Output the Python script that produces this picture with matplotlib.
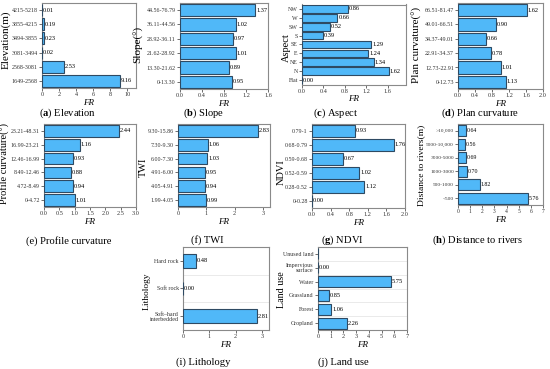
import matplotlib
matplotlib.use("Agg")
import matplotlib.pyplot as plt
import numpy as np

plt.rcParams['font.family'] = ['Liberation Serif', 'DejaVu Serif']
plt.rcParams['mathtext.fontset'] = 'custom'
plt.rcParams['mathtext.rm'] = 'Liberation Serif'
plt.rcParams['mathtext.it'] = 'Liberation Serif:italic'
plt.rcParams['mathtext.bf'] = 'Liberation Serif:bold'

# ---------------- data (bottom -> top) ----------------
elev_cats = ["1649-2568", "2568-3081", "3081-3494", "3494-3855", "3855-4215", "4215-5218"]
elev_fr = [9.16, 2.53, 0.02, 0.23, 0.19, 0.01]

slope_cats = ["0-13.30", "13.30-21.62", "21.62-28.92", "28.92-36.11", "36.11-44.56", "44.56-76.79"]
slope_fr = [0.95, 0.89, 1.01, 0.97, 1.02, 1.37]

aspect_cats = ["Flat", "N", "NE", "E", "SE", "S", "SW", "W", "NW"]
aspect_fr = [0.00, 1.62, 1.34, 1.24, 1.29, 0.39, 0.52, 0.66, 0.86]

plan_cats = ["0-12.73", "12.73-22.91", "22.91-34.37", "34.37-49.01", "49.01-66.51", "66.51-81.47"]
plan_fr = [1.13, 1.01, 0.78, 0.66, 0.90, 1.62]

prof_cats = ["0-4.72", "4.72-8.49", "8.49-12.46", "12.46-16.99", "16.99-23.21", "23.21-48.31"]
prof_fr = [1.01, 0.94, 0.88, 0.93, 1.16, 2.44]

twi_cats = ["1.99-4.05", "4.05-4.91", "4.91-6.00", "6.00-7.30", "7.30-9.30", "9.30-15.86"]
twi_fr = [0.99, 0.94, 0.95, 1.03, 1.06, 2.83]

ndvi_cats = ["0-0.28", "0.28-0.52", "0.52-0.59", "0.59-0.68", "0.68-0.79", "0.79-1"]
ndvi_fr = [0.00, 1.12, 1.02, 0.67, 1.76, 0.93]

river_cats = ["<500", "500-1000", "1000-3000", "3000-5000", "5000-10,000", ">10,000"]
river_fr = [5.76, 1.82, 0.70, 0.69, 0.56, 0.64]

lith_cats = ["Soft\u2013hard\ninterbedded", "Soft rock", "Hard rock"]
lith_fr = [2.81, 0.00, 0.48]

land_cats = ["Cropland", "Forest", "Grassland", "Water", "Impervious\nsurface", "Unused land"]
land_fr = [2.26, 1.06, 0.85, 5.75, 0.00, np.nan]

W, H = 550, 369
fig = plt.figure(figsize=(W / 100, H / 100), dpi=100)

FACE = '#50b8f8'
EDGE = '#2e4a63'
SPINE = '#8a8a8a'


def add_panel(l, r, t, b, cats, vals, xlim, xticks, fmt, ylabel, ylab_xy, ylab_fs,
              caption, cap_xy, height=0.85, seps=False, tfs=4.3):
    ax = fig.add_axes([l / W, 1 - b / H, (r - l) / W, (b - t) / H])
    y = np.arange(len(cats))
    v = np.array(vals, dtype=float)
    ax.barh(y, np.nan_to_num(v), height=height, color=FACE, edgecolor=EDGE,
            linewidth=0.8, zorder=3)
    for yi, vi in zip(y, v):
        if np.isnan(vi):
            continue
        ax.text(vi + xlim[1] * 0.01, yi, f"{vi:.2f}", va='center', ha='left',
                fontsize=tfs + 0.3, zorder=4)
    ax.set_yticks(y)
    ax.set_yticklabels(cats, fontsize=tfs, linespacing=1.0)
    ax.set_ylim(-0.5, len(cats) - 0.5)
    ax.set_xlim(*xlim)
    ax.set_xticks(xticks)
    ax.set_xticklabels([fmt.format(x) for x in xticks], fontsize=tfs + 0.2)
    ax.tick_params(length=2, width=0.5, pad=1, colors='#333333')
    for s in ax.spines.values():
        s.set_color(SPINE)
        s.set_linewidth(0.8)
    if seps:
        for k in range(len(cats) - 1):
            ax.axhline(k + 0.5, color='#e6e6e6', linewidth=0.6, zorder=1)
    ax.set_xlabel("FR", fontsize=6.5, style='italic', labelpad=1)
    fig.text(ylab_xy[0] / W, 1 - ylab_xy[1] / H, ylabel, rotation=90,
             ha='center', va='center', fontsize=ylab_fs)
    fig.text(cap_xy[0] / W, 1 - cap_xy[1] / H, caption, ha='center', va='center',
             fontsize=7.6)
    return ax


add_panel(42, 136, 3, 88, elev_cats, elev_fr, (0, 11), [0, 2, 4, 6, 8, 10], "{:g}",
          "Elevation(m)", (6, 40), 8, r"($\mathbf{a}$) Elevation", (68, 113))
add_panel(180, 268, 3, 89, slope_cats, slope_fr, (0, 1.6), [0, 0.4, 0.8, 1.2, 1.6], "{:.1f}",
          "Slope(°)", (138, 44), 8, r"($\mathbf{b}$) Slope", (204, 113))
add_panel(302, 406, 4.5, 84.5, aspect_cats, aspect_fr, (0, 1.94), [0, 0.4, 0.8, 1.2, 1.6], "{:.1f}",
          "Aspect", (286, 48), 7.5, r"($\mathbf{c}$) Aspect", (336, 113), height=0.85)
add_panel(458, 543, 3, 89, plan_cats, plan_fr, (0, 2.0), [0, 0.4, 0.8, 1.2, 1.6, 2.0], "{:.1f}",
          "Plan curvature(°)", (417, 45), 8, r"($\mathbf{d}$) Plan curvature", (480, 113))
add_panel(44, 136, 124, 207, prof_cats, prof_fr, (0, 3.0), [0, 0.5, 1.0, 1.5, 2.0, 2.5, 3.0], "{:.1f}",
          "Profile curvature(°)", (5, 163), 7.5, "(e) Profile curvature", (69, 241))
add_panel(178, 270, 124, 207, twi_cats, twi_fr, (0, 3.25), [0, 1, 2, 3], "{:g}",
          "TWI", (143, 167), 7.5, "(f) TWI", (207, 240))
add_panel(312, 405, 124, 208, ndvi_cats, ndvi_fr, (0, 2.0), [0, 0.4, 0.8, 1.2, 1.6, 2.0], "{:.1f}",
          "NDVI", (281, 172), 7.5, r"($\mathbf{g}$) NDVI", (342, 240))
add_panel(458, 543, 124, 205, river_cats, river_fr, (0, 7), [0, 1, 2, 3, 4, 5, 6, 7], "{:g}",
          "Distance to rivers(m)", (421, 165), 6.8, r"($\mathbf{h}$) Distance to rivers", (478, 240),
          tfs=3.9)
add_panel(183, 269, 247, 330, lith_cats, lith_fr, (0, 3.27), [0, 1, 2, 3], "{:g}",
          "Lithology", (147, 291), 6.8, "(i) Lithology", (203, 362), height=0.5, seps=True)
add_panel(318, 407, 247, 330, land_cats, land_fr, (0, 7), [0, 1, 2, 3, 4, 5, 6, 7], "{:g}",
          "Land use", (281, 290), 7.2, "(j) Land use", (343, 362), height=0.8, seps=True)

fig.savefig("out.png", dpi=100)
